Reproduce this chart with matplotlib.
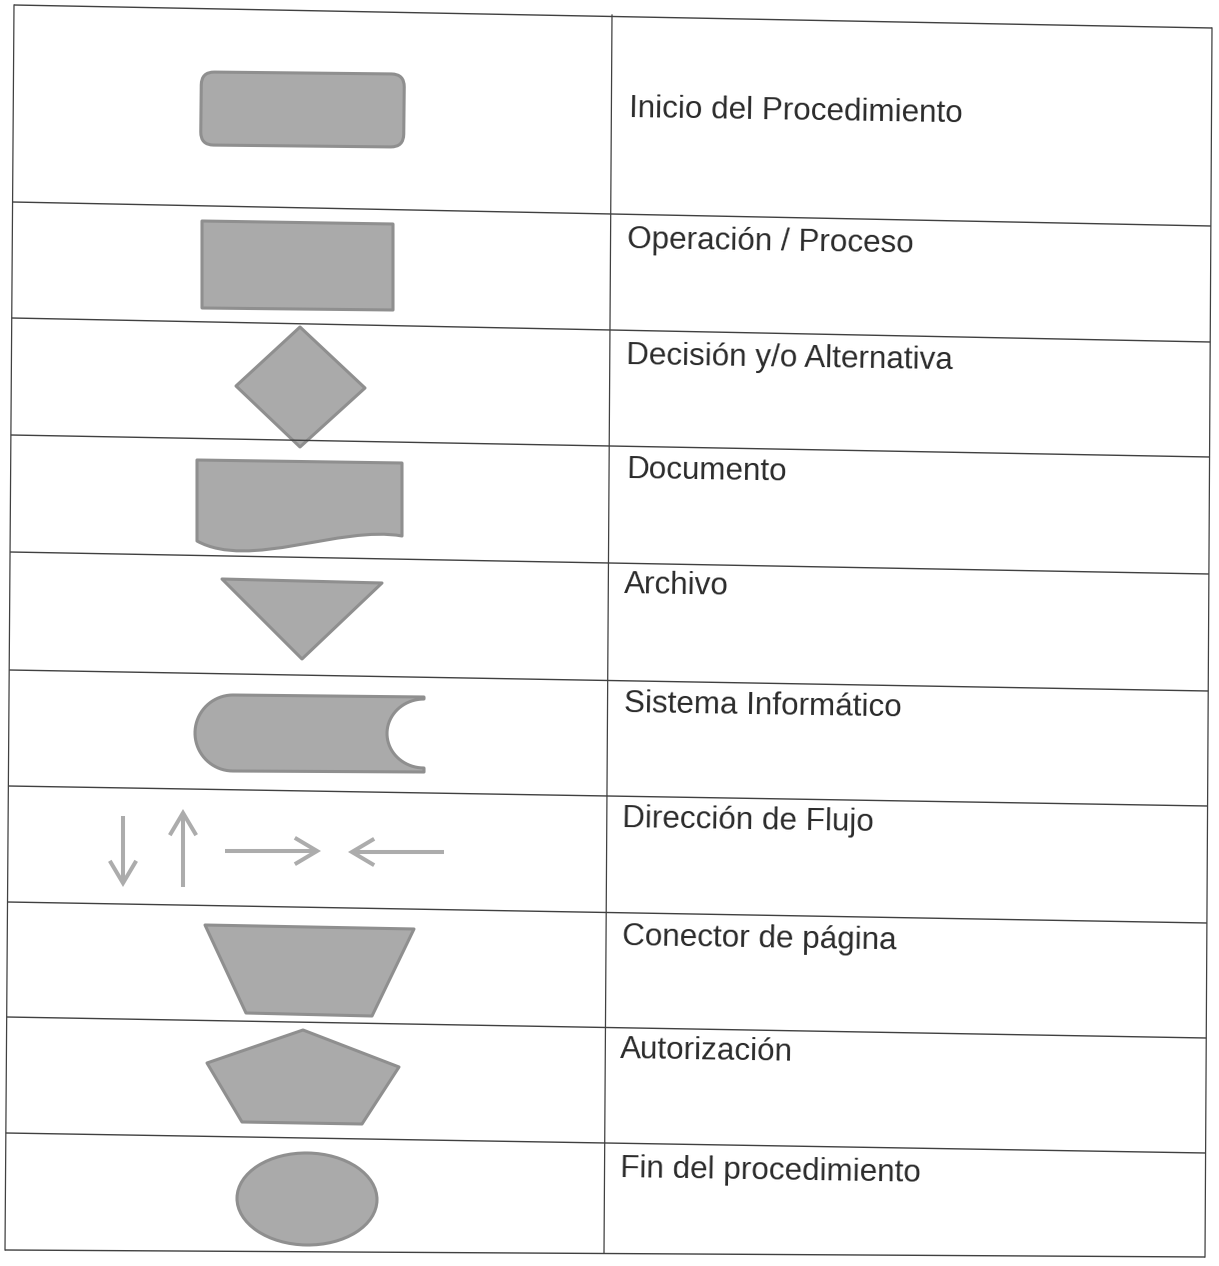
"""
Tabla de simbologia para diagramas de flujo (recreacion del escaneo).
"""
import numpy as np
import matplotlib
matplotlib.use("Agg")
import matplotlib.pyplot as plt
import matplotlib.transforms as mtransforms
from matplotlib.patches import Polygon, FancyBboxPatch, Ellipse, PathPatch, FancyArrowPatch
from matplotlib.path import Path

W, H = 1219, 1266

# ---------------------------------------------------------------------------
# Data
# ---------------------------------------------------------------------------
labels = [
    "Inicio del Procedimiento",
    "Operación / Proceso",
    "Decisión y/o Alternativa",
    "Documento",
    "Archivo",
    "Sistema Informático",
    "Dirección de Flujo",
    "Conector de página",
    "Autorización",
    "Fin del procedimiento",
]
symbols = ["inicio", "proceso", "decision", "documento", "archivo",
           "sistema", "flujo", "conector", "autorizacion", "fin"]
flow_arrows = ["down", "up", "right", "left"]

# horizontal rules: y at left and right page edge (the scan is slightly skewed)
rule_y_left = [5, 202, 318, 435, 552, 670, 786, 902, 1017, 1133, 1250]
rule_y_right = [28, 226, 342, 457, 574, 691, 806, 923, 1038, 1153, 1257]
label_x = [629, 627, 626, 626, 624, 624, 622, 622, 620, 620]
label_baseline = [117, 248, 364, 478, 593, 712, 827, 945, 1058, 1177]

FILL = "#aaaaaa"
EDGE = "#8f8f8f"
LINE = "#404040"
TEXT = "#2a2a2a"
ARROW = "#acacac"
SKEW = 0.9  # degrees


def left_x(y):
    return 14 - 9 * (y - 5) / 1245


def right_x(y):
    return 1212 - 7 * (y - 28) / 1229


def mid_x(y):
    return 612 - 8 * (y - 15) / 1238


# ---------------------------------------------------------------------------
# Symbol drawing
# ---------------------------------------------------------------------------
def shape_kw():
    return dict(facecolor=FILL, edgecolor=EDGE, linewidth=2.2, joinstyle="round")


def draw_inicio(ax):
    rot = mtransforms.Affine2D().rotate_deg_around(302, 110, 0.6) + ax.transData
    ax.add_patch(FancyBboxPatch((201, 73), 203, 73,
                                boxstyle="round,pad=0,rounding_size=13",
                                transform=rot, **shape_kw()))


def draw_proceso(ax):
    ax.add_patch(Polygon([(202, 221), (393, 224), (393, 310), (202, 308)], **shape_kw()))


def draw_decision(ax):
    ax.add_patch(Polygon([(300, 327), (365, 388), (300, 447), (236, 386)], **shape_kw()))


def draw_documento(ax):
    verts = [(197, 460), (402, 463), (402, 536),
             (340, 525), (250, 570), (197, 541), (197, 460)]
    codes = [Path.MOVETO, Path.LINETO, Path.LINETO,
             Path.CURVE4, Path.CURVE4, Path.CURVE4, Path.CLOSEPOLY]
    ax.add_patch(PathPatch(Path(verts, codes), **shape_kw()))


def draw_archivo(ax):
    ax.add_patch(Polygon([(222, 579), (382, 583), (302, 659)], **shape_kw()))


def draw_sistema(ax):
    t = np.linspace(0, np.pi, 40)
    left_arc = np.column_stack([233 - 38 * np.sin(t), 695 + 38 * (1 - np.cos(t))])
    notch = np.column_stack([424 - 37 * np.sin(t), 733.5 + 34.5 * np.cos(t)])
    verts = np.vstack([[(424, 697)], left_arc, [(424, 772), (424, 768)], notch])
    ax.add_patch(Polygon(verts, **shape_kw()))


def draw_flujo(ax):
    ends = {
        "down": ((123, 816), (123, 887)),
        "up": ((183, 887), (183, 809)),
        "right": ((225, 851), (321, 851)),
        "left": ((444, 852), (348, 852)),
    }
    for d in flow_arrows:
        a, b = ends[d]
        ax.add_patch(FancyArrowPatch(a, b, arrowstyle="->,head_length=1.6,head_width=0.95",
                                     mutation_scale=10, lw=2.9, color=ARROW,
                                     shrinkA=0, shrinkB=0, joinstyle="miter",
                                     capstyle="butt"))


def draw_conector(ax):
    ax.add_patch(Polygon([(205, 925), (414, 929), (372, 1016), (246, 1013)], **shape_kw()))


def draw_autorizacion(ax):
    ax.add_patch(Polygon([(303, 1030), (399, 1067), (362, 1124), (242, 1122), (207, 1063)],
                         **shape_kw()))


def draw_fin(ax):
    ax.add_patch(Ellipse((307, 1199), 140, 92, angle=SKEW, **shape_kw()))


DRAWERS = {
    "inicio": draw_inicio, "proceso": draw_proceso, "decision": draw_decision,
    "documento": draw_documento, "archivo": draw_archivo, "sistema": draw_sistema,
    "flujo": draw_flujo, "conector": draw_conector,
    "autorizacion": draw_autorizacion, "fin": draw_fin,
}


# ---------------------------------------------------------------------------
# Figure
# ---------------------------------------------------------------------------
fig = plt.figure(figsize=(W / 100, H / 100), dpi=100)
ax = fig.add_axes([0, 0, 1, 1])
ax.set_xlim(0, W)
ax.set_ylim(H, 0)
ax.axis("off")

# table grid
for yl, yr in zip(rule_y_left, rule_y_right):
    ax.plot([left_x(yl), right_x(yr)], [yl, yr], color=LINE, lw=1.0, solid_capstyle="butt")
y_top, y_bot = rule_y_left[0], rule_y_left[-1]
ax.plot([left_x(y_top), left_x(y_bot)], [y_top, y_bot], color=LINE, lw=0.9)
ax.plot([mid_x(15), mid_x(1253)], [15, 1253], color=LINE, lw=0.9)
ax.plot([right_x(rule_y_right[0]), right_x(rule_y_right[-1])],
        [rule_y_right[0], rule_y_right[-1]], color=LINE, lw=0.9)

# symbols and labels
for sym in symbols:
    DRAWERS[sym](ax)

for text, x, y in zip(labels, label_x, label_baseline):
    ax.text(x, y, text, fontsize=22.6, family="Liberation Sans", color=TEXT,
            ha="left", va="baseline", rotation=-SKEW, rotation_mode="anchor")

fig.savefig("out.png", dpi=100, facecolor="white")
